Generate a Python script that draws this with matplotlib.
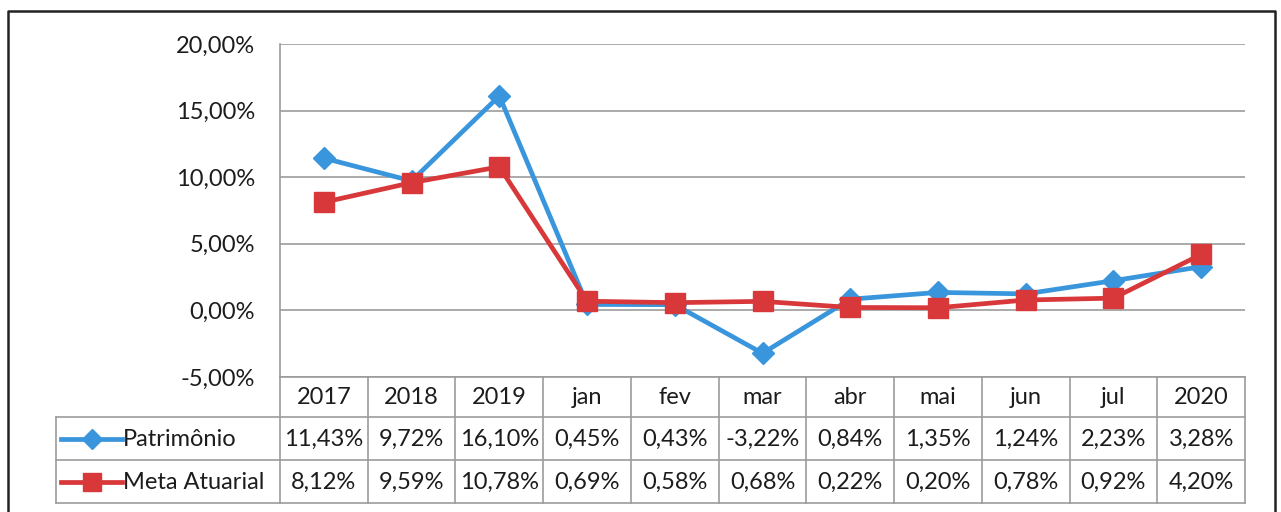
import matplotlib
matplotlib.use("Agg")
import matplotlib.pyplot as plt
from matplotlib.lines import Line2D

plt.rcParams['font.family'] = ['Lato', 'DejaVu Sans']

categories = ["2017", "2018", "2019", "jan", "fev", "mar", "abr", "mai", "jun", "jul", "2020"]
patrimonio = [11.43, 9.72, 16.10, 0.45, 0.43, -3.22, 0.84, 1.35, 1.24, 2.23, 3.28]
meta_atuarial = [8.12, 9.59, 10.78, 0.69, 0.58, 0.68, 0.22, 0.20, 0.78, 0.92, 4.20]
series_names = ["Patrimônio", "Meta Atuarial"]
yticks = [-5, 0, 5, 10, 15, 20]

BLUE = "#3a96dc"
RED = "#d8383a"
GRID = "#9c9c9c"
TXT = "#1c1c1c"
FS = 17

W, H = 1281, 512
fig = plt.figure(figsize=(W / 100, H / 100), dpi=100)

def fx(px):
    return px / W

def fy(py):
    return 1 - py / H

# outer border (left, top, right)
fig.add_artist(Line2D([fx(8), fx(8), fx(1275), fx(1275)], [0, fy(11), fy(11), 0],
                      color="#222222", lw=1.8, transform=fig.transFigure))

L, R = 280, 1245
T, B = 44, 377
ax = fig.add_axes([fx(L), fy(B), fx(R - L), fy(T) - fy(B)])
n = len(categories)
x = list(range(n))
ax.set_xlim(-0.5, n - 0.5)
ax.set_ylim(-5, 20)
ax.set_yticks(yticks)
ax.set_yticklabels([f"{v:.2f}%".replace(".", ",") for v in yticks], fontsize=FS, color=TXT)
ax.tick_params(axis="y", length=0, pad=18)
ax.set_xticks([])
for s in ["top", "right", "bottom"]:
    ax.spines[s].set_visible(False)
ax.spines["left"].set_color(GRID)
ax.spines["left"].set_linewidth(1.2)
for v in yticks:
    ax.axhline(v, color=GRID, lw=1.2, zorder=0)

ax.plot(x, patrimonio, color=BLUE, lw=3.4, marker="D", markersize=11, zorder=3,
        clip_on=False)
ax.plot(x, meta_atuarial, color=RED, lw=3.4, marker="s", markersize=14, zorder=4,
        clip_on=False)

# data table
TT, TB = 377, 503
tax = fig.add_axes([fx(L), fy(TB), fx(R - L), fy(TT) - fy(TB)])
tax.set_xlim(-0.5, n - 0.5)
tax.set_ylim(126, 0)
tax.axis("off")
rows = [0, 40, 83, 126]
unit = (R - L) / n
label_left = -0.5 - (L - 56) / unit

lk = dict(color=GRID, lw=1.2, clip_on=False)
tax.plot([-0.5, n - 0.5], [rows[0], rows[0]], **lk)
for r in rows[1:]:
    tax.plot([label_left, n - 0.5], [r, r], **lk)
for i in range(n + 1):
    tax.plot([i - 0.5, i - 0.5], [rows[0], rows[3]], **lk)
tax.plot([label_left, label_left], [rows[1], rows[3]], **lk)

for i, c in enumerate(categories):
    tax.text(i, (rows[0] + rows[1]) / 2 + 1, c, ha="center", va="center", fontsize=FS, color=TXT)

for ri, (vals, name, col, mk, ms) in enumerate([
        (patrimonio, series_names[0], BLUE, "D", 10),
        (meta_atuarial, series_names[1], RED, "s", 13)]):
    yc = (rows[ri + 1] + rows[ri + 2]) / 2 + 1
    for i, v in enumerate(vals):
        tax.text(i, yc, f"{v:.2f}%".replace(".", ","), ha="center", va="center",
                 fontsize=FS, color=TXT)
    k0 = label_left + 5 / unit
    k1 = label_left + 66 / unit
    tax.plot([k0, k1], [yc - 1, yc - 1], color=col, lw=3.4, clip_on=False)
    tax.plot([(k0 + k1) / 2], [yc - 1], color=col, marker=mk, markersize=ms, clip_on=False)
    tax.text(k1 + 1 / unit, yc, name, ha="left", va="center", fontsize=FS, color=TXT)

fig.savefig("out.png", dpi=100, facecolor="white")
